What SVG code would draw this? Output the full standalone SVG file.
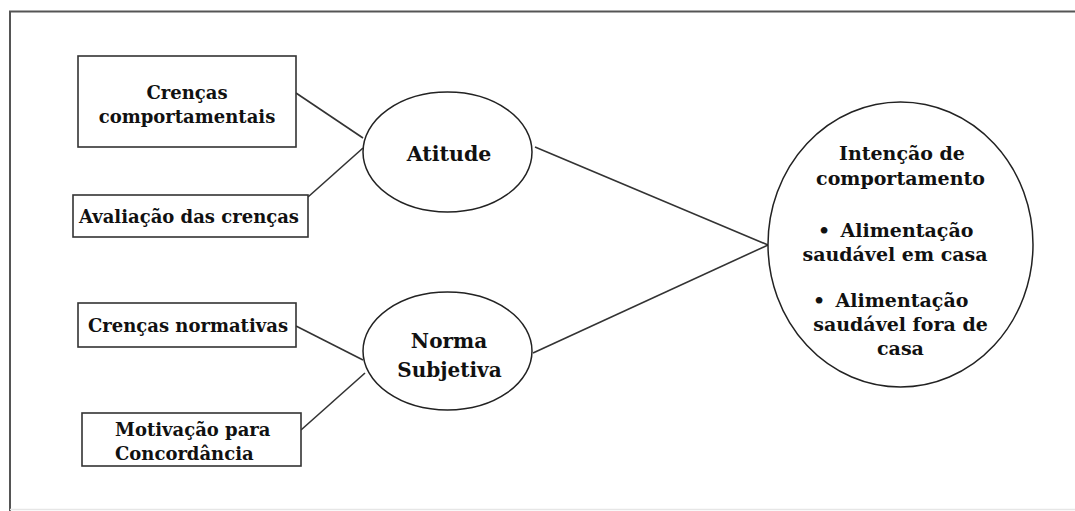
<svg xmlns="http://www.w3.org/2000/svg" width="1075" height="511" viewBox="0 0 1075 511">
<style>
.box{fill:#fff;stroke:#333;stroke-width:1.6}
.ell{fill:#fff;stroke:#222;stroke-width:1.5}
.con line{stroke:#333;stroke-width:1.6}
text{font-family:"DejaVu Serif","Liberation Serif",serif;font-weight:bold;fill:#111;font-size:18px}
.c{text-anchor:middle}
.i text{font-size:19px}
</style>
<rect width="1075" height="511" fill="#fff"/>
<path d="M10,511 V11.5 H1075" fill="none" stroke="#555" stroke-width="2"/>
<line x1="10" y1="509.5" x2="1075" y2="509.5" stroke="#e6e6e6" stroke-width="1.5"/>
<g class="con" id="connectors">
<line x1="296" y1="93" x2="363" y2="138"/>
<line x1="308" y1="197" x2="363" y2="148"/>
<line x1="296" y1="326" x2="363" y2="360"/>
<line x1="301" y1="430" x2="365" y2="373"/>
<line x1="535" y1="147" x2="768" y2="245"/>
<line x1="533" y1="353" x2="768" y2="245"/>
</g>
<g id="crencas-comportamentais">
<rect class="box" x="78" y="56" width="218" height="91"/>
<text class="c" x="187" y="99">Crenças</text>
<text class="c" x="187" y="123">comportamentais</text>
</g>
<g id="avaliacao">
<rect class="box" x="73" y="195" width="235" height="42"/>
<text class="c" x="189" y="223">Avaliação das crenças</text>
</g>
<g id="crencas-normativas">
<rect class="box" x="78" y="303" width="218" height="44"/>
<text class="c" x="188" y="332">Crenças normativas</text>
</g>
<g id="motivacao">
<rect class="box" x="82" y="413" width="219" height="53"/>
<text x="115" y="436">Motivação para</text>
<text x="115" y="460">Concordância</text>
</g>
<g id="atitude">
<ellipse class="ell" cx="447.5" cy="152" rx="84.5" ry="60"/>
<text class="c" x="449" y="161" style="font-size:20.5px">Atitude</text>
</g>
<g id="norma-subjetiva">
<ellipse class="ell" cx="447.5" cy="351" rx="84.5" ry="59"/>
<text class="c" x="449" y="348" style="font-size:20px">Norma</text>
<text class="c" x="449.5" y="377" style="font-size:20px">Subjetiva</text>
</g>
<g id="intencao" class="i">
<ellipse class="ell" cx="900.5" cy="244.5" rx="132.5" ry="142.5"/>
<text class="c" x="902" y="160">Intenção de</text>
<text class="c" x="900.5" y="185">comportamento</text>
<text x="818" y="237">•</text>
<text class="c" x="907" y="237">Alimentação</text>
<text class="c" x="895" y="261">saudável em casa</text>
<text x="813" y="307">•</text>
<text class="c" x="902" y="307">Alimentação</text>
<text class="c" x="900.5" y="331">saudável fora de</text>
<text class="c" x="900.5" y="355">casa</text>
</g>
</svg>
